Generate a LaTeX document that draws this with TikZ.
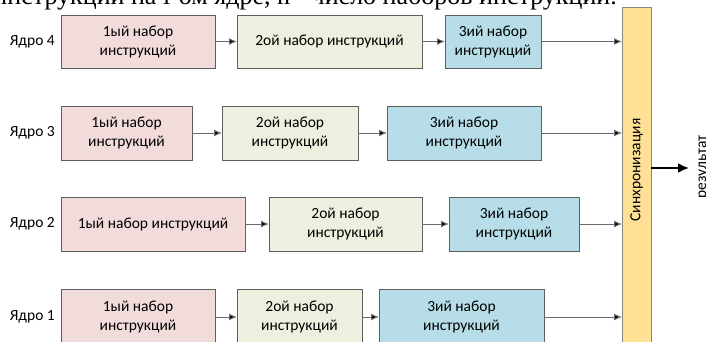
\documentclass[tikz,border=0pt]{standalone}
\usepackage{fontspec}
\setmainfont{Carlito}
\newfontfamily\serifface{Liberation Serif}
\usetikzlibrary{arrows.meta}
\definecolor{setone}{HTML}{F2DCDB}
\definecolor{settwo}{HTML}{EBF1DE}
\definecolor{setthree}{HTML}{B7DEE8}
\definecolor{syncfill}{HTML}{FFE196}
\definecolor{edge}{HTML}{5E5E5E}
\definecolor{syncedge}{HTML}{8A8676}
\definecolor{wire}{HTML}{6A6A6A}
\tikzset{
  block/.style={draw=edge, line width=1pt, inner sep=0pt, outer sep=0pt,
    align=center, minimum height=53pt, font=\fontsize{15.5}{19}\selectfont},
  pinkbox/.style={block, fill=setone},
  greenbox/.style={block, fill=settwo},
  bluebox/.style={block, fill=setthree},
  corelabel/.style={anchor=east, inner sep=0pt, font=\fontsize{15.5}{19}\selectfont},
  flow/.style={draw=wire, line width=1pt, -{Latex[length=8pt,width=7pt,fill=black]}},
  resultflow/.style={draw=black, line width=2pt, -{Latex[length=11pt,width=10pt]}},
}
\begin{document}
\begin{tikzpicture}[x=1pt,y=-1pt]
\useasboundingbox (0,0) rectangle (706,341);
\clip (0,0) rectangle (706,341);

% caption line running above the figure
\node[anchor=base east, inner sep=0pt, font=\serifface\fontsize{26}{30}\selectfont]
  (caption) at (617,4.5) {инструкции на i-ом ядре, n - число наборов инструкций.};

% synchronisation bar
\node[draw=syncedge, line width=1pt, fill=syncfill, inner sep=0pt, outer sep=0pt,
  minimum width=29pt, minimum height=340pt] (sync) at (636.5,177) {};
\node[rotate=90, font=\fontsize{15.5}{19}\selectfont] (synctext) at (636.5,170) {Синхронизация};

% core 4
\node[corelabel] (c4) at (55,41.5) {Ядро 4};
\node[pinkbox,  minimum width=154pt] (a4) at (138,41.5)   {1ый набор\\инструкций};
\node[greenbox, minimum width=185pt] (b4) at (329.5,41.5) {2ой набор инструкций};
\node[bluebox,  minimum width=96pt]  (d4) at (493,41.5)   {3ий набор\\инструкций};

% core 3
\node[corelabel] (c3) at (55,133) {Ядро 3};
\node[pinkbox,  minimum width=131pt, minimum height=54pt] (a3) at (126.5,133) {1ый набор\\инструкций};
\node[greenbox, minimum width=136pt, minimum height=54pt] (b3) at (290,133)   {2ой набор\\инструкций};
\node[bluebox,  minimum width=154pt, minimum height=54pt] (d3) at (464,133)   {3ий набор\\инструкций};

% core 2
\node[corelabel] (c2) at (55,224) {Ядро 2};
\node[pinkbox,  minimum width=184pt, minimum height=54pt] (a2) at (153,224)   {1ый набор инструкций};
\node[greenbox, minimum width=153pt, minimum height=54pt] (b2) at (345.5,224) {2ой набор\\инструкций};
\node[bluebox,  minimum width=130pt, minimum height=54pt] (d2) at (514,224)   {3ий набор\\инструкций};

% core 1
\node[corelabel] (c1) at (55,317) {Ядро 1};
\node[pinkbox,  minimum width=154pt, minimum height=56pt] (a1) at (138,317)   {1ый набор\\инструкций};
\node[greenbox, minimum width=125pt, minimum height=56pt] (b1) at (299.5,317) {2ой набор\\инструкций};
\node[bluebox,  minimum width=165pt, minimum height=56pt] (d1) at (461.5,317) {3ий набор\\инструкций};

% flow inside each core and into the barrier
\foreach \k in {1,2,3,4} {
  \draw[flow] (a\k) -- (b\k);
  \draw[flow] (b\k) -- (d\k);
  \draw[flow] (d\k) -- (d\k -| sync.west);
}

% result
\coordinate (res) at (689,168);
\draw[resultflow] (res -| sync.east) -- (res);
\node[rotate=90, anchor=base, inner sep=0pt, font=\fontsize{15.5}{19}\selectfont]
  (restext) at (706,167) {результат};
\end{tikzpicture}
\end{document}
